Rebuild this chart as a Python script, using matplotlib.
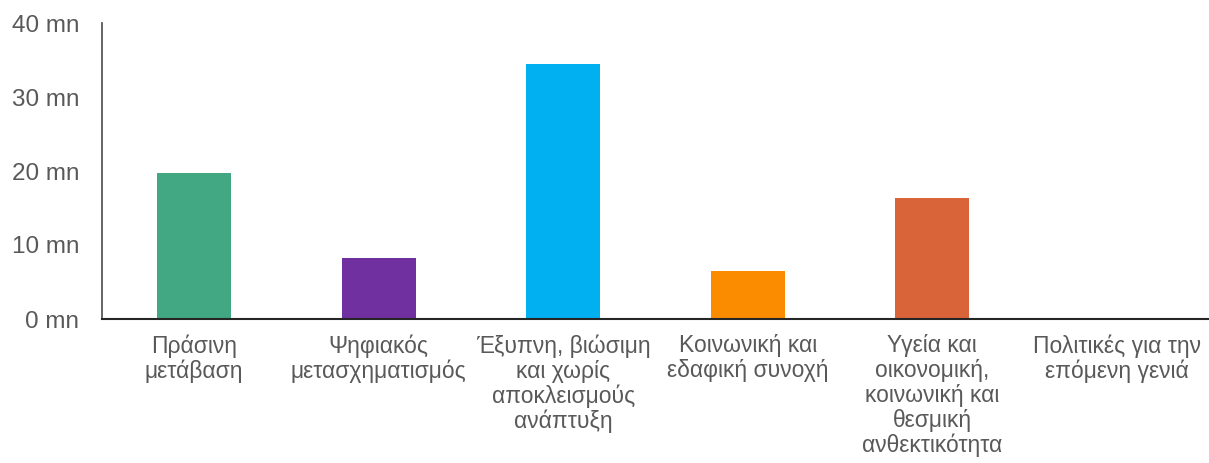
import matplotlib.pyplot as plt
import numpy as np

plt.rcParams['font.family'] = ['Liberation Sans', 'DejaVu Sans']

# categories and values (millions)
categories = ["Πράσινη\nμετάβαση",
              "Ψηφιακός\nμετασχηματισμός",
              "Έξυπνη, βιώσιμη\nκαι χωρίς\nαποκλεισμούς\nανάπτυξη",
              "Κοινωνική και\nεδαφική συνοχή",
              "Υγεία και\nοικονομική,\nκοινωνική και\nθεσμική\nανθεκτικότητα",
              "Πολιτικές για την\nεπόμενη γενιά"]
values = [19.7, 8.2, 34.5, 6.5, 16.35, 0]
colors = ["#41A883", "#7030A0", "#00B0F0", "#FB8C00", "#DA6439", "#808080"]
yticks = [0, 10, 20, 30, 40]
ytick_labels = ["0 mn", "10 mn", "20 mn", "30 mn", "40 mn"]

fig = plt.figure(figsize=(12.09, 4.63), dpi=100)
ax = fig.add_axes([102 / 1209, 1 - 319 / 463, 1 - 102 / 1209, (319 - 23) / 463])

x = np.arange(len(categories))
ax.bar(x, values, width=0.4, color=colors, zorder=2)

ax.set_xlim(-0.5, len(categories) - 0.5)
ax.set_ylim(0, 40)
ax.set_yticks(yticks)
ax.set_yticklabels(ytick_labels, fontsize=17.5, color="#595959")
ax.set_xticks(x)
ax.set_xticklabels(categories, fontsize=16.5, color="#595959", linespacing=1.1)
ax.tick_params(axis='y', length=0, pad=16.5)
ax.tick_params(axis='x', length=0, pad=11)

for s in ['top', 'right']:
    ax.spines[s].set_visible(False)
ax.spines['left'].set_color("#595959")
ax.spines['left'].set_linewidth(1.3)
ax.spines['bottom'].set_color("#262626")
ax.spines['bottom'].set_linewidth(1.5)
ax.spines['bottom'].set_zorder(3)

fig.savefig("out.png", dpi=100)
